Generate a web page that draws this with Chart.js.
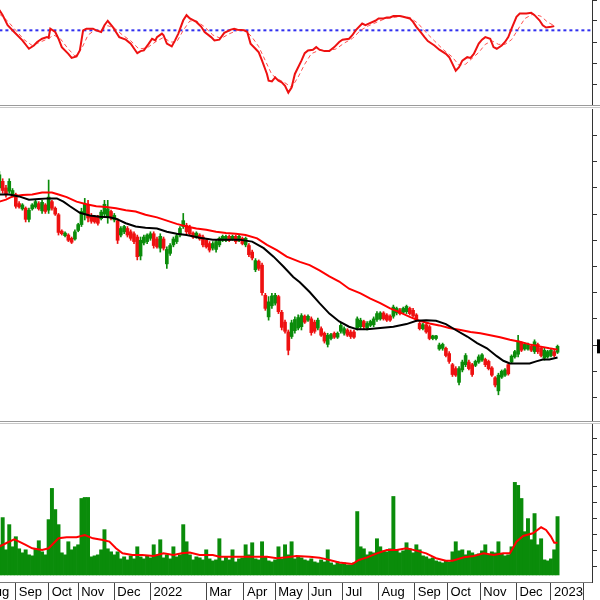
<!DOCTYPE html>
<html>
<head>
<meta charset="utf-8">
<script src="https://cdn.jsdelivr.net/npm/chart.js@4.4.1/dist/chart.umd.min.js"></script>
<style>
  html, body { margin: 0; padding: 0; width: 600px; height: 600px; overflow: hidden; background: #fff; position: relative; }
  canvas { position: absolute; }
  .sep { position: absolute; left: 0; width: 600px; height: 1px; }
</style>
</head>
<body>
<canvas id="rsi" width="680" height="105" style="left:-40px;top:0"></canvas>
<div class="sep" style="top:105px;background:#9a9a9a"></div>
<div class="sep" style="top:107px;background:#c8c8c8"></div>
<canvas id="price" width="680" height="312" style="left:-40px;top:109px"></canvas>
<div class="sep" style="top:421px;background:#9a9a9a"></div>
<div class="sep" style="top:423px;background:#c8c8c8"></div>
<canvas id="vol" width="680" height="176" style="left:-40px;top:424px"></canvas>
<script>
// x is a trading-day index (one candle every 2 sessions)
const monthDays   = [-10, 10, 30, 48, 70, 92, 126, 149, 168, 188, 209, 231, 253, 273, 293, 315, 336, 356];
const monthLabels = ['Aug', 'Sep', 'Oct', 'Nov', 'Dec', '2022', 'Mar', 'Apr', 'May', 'Jun', 'Jul', 'Aug', 'Sep', 'Oct', 'Nov', 'Dec', '2023', ''];

const opens = [56.0,57.0,56.0,55.5,55.0,55.0,53.6,52.8,52.9,51.2,52.8,53.1,53.6,52.5,53.4,52.6,53.9,52.9,51.9,49.4,
  48.7,48.8,48.3,48.2,49.5,50.4,52.0,53.4,51.8,51.6,51.5,51.3,52.0,51.5,52.4,51.1,51.0,48.8,49.3,49.8,
  49.3,49.0,48.5,45.6,47.6,47.8,48.3,49.0,48.2,46.8,48.2,44.4,46.0,47.3,47.8,48.8,50.1,50.3,50.0,49.1,
  48.5,48.8,48.5,48.0,47.5,46.8,46.6,47.3,48.0,48.0,48.6,48.2,48.6,48.0,48.3,47.3,47.2,46.2,43.5,44.8,
  44.2,39.6,36.3,38.0,38.4,39.4,37.0,35.5,34.0,33.3,34.2,34.6,34.8,36.4,35.8,36.0,35.5,34.6,34.5,33.8,
  32.1,33.0,33.8,33.2,34.1,33.8,34.3,34.0,34.0,34.6,34.8,35.6,34.6,35.0,35.1,35.9,36.0,36.9,36.6,36.4,
  36.4,36.9,37.4,37.0,37.1,37.6,37.3,36.6,35.3,34.5,35.1,34.8,33.0,33.0,31.4,31.5,31.5,30.7,29.0,28.4,
  26.3,28.2,29.0,29.4,29.0,28.9,29.4,29.7,29.8,29.5,28.5,27.0,25.0,27.1,27.4,29.0,29.4,30.2,30.6,32.3,
  31.4,31.4,31.8,31.0,32.1,31.5,30.0,30.2,30.4,31.0,30.9];
const highs = [58.5,57.4,56.4,57.4,55.9,55.2,53.9,53.6,53.1,52.9,53.6,54.1,53.9,54.1,53.6,57.2,54.1,53.1,52.1,49.6,
  49.3,49.0,48.5,49.6,50.6,52.9,54.4,54.1,52.1,51.8,51.8,52.6,54.1,54.1,52.6,52.1,51.3,50.1,50.3,50.1,
  49.6,49.3,48.8,48.5,48.8,49.0,49.3,49.3,48.5,49.0,48.5,47.0,47.5,48.5,49.0,50.1,52.1,50.6,50.3,49.3,
  49.3,49.0,48.8,48.3,47.8,47.8,48.0,48.5,48.8,48.8,48.8,48.8,48.8,48.8,48.5,48.5,47.5,46.5,45.2,45.0,
  44.5,39.9,39.4,39.9,39.9,39.6,37.3,35.8,34.3,35.8,36.3,36.6,36.8,36.6,36.6,36.3,35.8,36.1,34.8,34.0,
  33.8,33.8,34.0,34.0,35.3,34.8,34.5,34.3,34.3,36.3,36.1,35.8,35.6,35.8,36.3,37.1,37.1,37.1,36.8,36.6,
  38.1,37.8,37.6,37.8,38.1,37.8,37.6,36.8,35.6,35.3,35.3,35.0,33.5,33.5,32.3,32.3,31.7,31.0,29.2,28.7,
  28.7,29.7,30.7,29.7,29.2,29.7,30.5,30.7,30.0,29.7,28.7,27.2,27.7,28.2,28.4,29.2,30.5,31.2,33.5,32.5,
  32.3,32.3,32.0,32.8,32.3,31.7,31.5,31.2,31.5,31.2,32.0];
const lows = [55.2,55.2,54.6,55.2,54.6,52.9,52.9,52.6,50.8,50.8,52.6,52.9,52.6,52.1,52.1,52.1,52.6,51.8,48.8,48.8,
  48.5,47.8,47.5,48.0,49.3,50.1,51.1,50.8,50.6,50.6,50.3,51.1,51.6,50.6,51.1,50.8,47.5,48.5,49.0,48.5,
  48.0,47.5,45.0,45.0,47.3,47.5,48.0,46.8,46.8,46.2,46.5,43.7,45.7,47.0,47.5,48.5,49.8,49.0,48.8,48.3,
  48.3,48.0,47.0,46.8,46.2,46.5,46.2,47.0,47.8,47.8,47.8,48.0,47.5,47.8,47.3,47.0,45.5,45.0,43.2,43.4,
  39.6,37.3,35.8,37.6,38.1,36.8,34.3,33.8,30.5,33.0,33.8,34.3,34.3,35.3,35.6,33.5,33.8,34.3,33.3,32.3,
  31.7,32.8,33.0,33.0,33.8,33.5,33.3,33.0,33.0,34.3,34.5,34.5,34.3,34.8,34.8,35.6,35.8,35.8,35.6,35.6,
  36.1,36.6,36.6,36.8,36.8,36.6,36.3,35.6,34.3,34.3,33.8,32.8,32.8,32.8,31.2,31.2,30.2,29.2,27.2,27.2,
  25.9,27.9,28.7,28.2,27.2,28.7,29.2,29.5,28.7,28.2,27.2,25.6,24.4,26.9,27.2,27.4,29.2,30.0,30.2,31.0,
  31.2,31.2,31.0,30.7,30.7,30.2,29.7,30.0,30.2,30.2,30.7];
const closes = [58.0,55.6,55.0,57.0,55.6,53.2,53.1,53.4,51.2,52.6,53.4,53.9,52.8,53.8,52.4,54.6,52.9,52.0,49.2,49.0,
  49.1,48.0,47.7,49.3,50.4,52.4,53.6,51.4,50.9,50.8,50.6,52.3,53.5,52.8,51.4,51.8,48.0,49.8,50.1,48.8,
  48.3,47.8,45.5,48.0,48.5,48.8,49.0,47.2,47.0,48.6,46.8,46.6,47.2,48.2,48.7,49.8,51.0,49.3,49.0,48.5,
  49.1,48.2,47.3,47.0,46.5,47.5,47.8,48.3,48.6,48.6,48.0,48.6,47.8,48.6,47.5,48.3,45.8,45.3,44.9,43.7,
  40.0,37.6,38.6,39.5,39.6,37.1,34.7,34.1,31.2,35.4,35.9,36.2,36.5,35.5,36.4,33.9,34.1,35.8,33.5,32.6,
  33.5,33.6,33.2,33.8,35.0,34.5,33.5,33.3,33.2,36.0,35.8,34.8,35.3,35.6,36.0,36.8,36.9,36.0,35.8,35.8,
  37.8,37.6,36.8,37.6,37.9,36.8,36.5,35.8,34.5,35.1,34.0,33.0,33.4,33.4,32.0,32.1,30.4,29.5,27.5,27.4,
  28.4,29.4,30.4,28.4,27.5,29.5,30.2,30.5,29.0,28.4,27.4,25.9,27.4,28.0,28.2,27.6,30.3,31.0,32.6,31.2,
  32.1,32.1,31.2,32.5,31.0,30.4,31.2,31.0,31.2,30.4,31.8];
const volumes = [3.0,5.7,2.5,5.0,2.8,3.8,2.6,2.2,2.5,2.0,1.9,2.6,3.4,2.3,2.0,5.5,8.6,6.5,5.0,2.2,
  2.0,3.3,2.5,2.8,3.0,7.6,7.7,7.7,1.8,1.9,2.0,2.5,4.5,2.6,2.3,2.0,2.3,1.6,1.8,1.5,
  1.9,1.6,2.8,1.8,1.6,1.9,1.7,3.0,2.0,3.5,1.7,2.0,1.6,2.8,1.8,2.0,5.0,3.3,2.0,1.5,
  1.8,1.7,1.5,2.5,1.6,1.4,1.5,3.6,1.4,1.8,1.5,2.5,1.3,1.6,1.7,3.0,2.0,3.2,1.6,1.5,
  3.3,1.8,1.4,1.3,1.5,2.8,1.6,3.0,2.0,3.3,1.6,1.8,1.7,1.5,1.4,1.6,1.3,1.2,1.5,1.3,
  2.5,1.2,1.0,1.3,1.1,1.2,1.0,1.0,1.2,6.3,2.8,2.6,2.0,2.3,2.2,3.6,2.8,2.4,2.3,2.6,
  7.8,2.5,2.2,2.4,3.2,2.6,2.2,3.0,2.5,1.9,1.8,1.6,1.7,1.4,1.3,1.2,1.4,1.3,2.3,3.3,
  2.4,2.5,2.0,2.4,2.2,2.0,2.1,2.4,3.0,2.0,2.3,2.2,3.3,2.1,1.9,2.0,2.8,9.2,8.9,7.6,
  4.3,5.6,3.5,6.1,3.0,3.6,1.5,1.4,1.6,2.5,5.8];

const maShortDays = [0,6,12,18,24,30,35,39,43,49,55,61,67,71,77,83,89,96,102,108,114,122,130,138,146,154,161,167,173,179,
  183,189,195,201,207,213,218,224,232,240,248,254,260,266,272,278,285,291,297,303,307,311,317,323,327,331,335,340];
const maShort = [55.0,55.0,54.7,54.2,54.3,54.4,54.4,53.9,53.2,52.2,51.8,51.6,51.5,51.3,50.6,50.1,49.9,49.8,49.3,49.0,
  48.8,48.4,48.1,48.1,48.1,47.8,46.8,45.5,44.0,42.4,41.6,40.1,38.4,36.8,35.6,34.8,34.4,34.4,34.6,34.8,
  35.2,35.7,35.8,35.7,35.2,34.3,33.3,32.3,31.5,30.3,29.6,29.2,29.2,29.2,29.5,29.8,29.8,30.1];
const maLongDays = [0,4,8,14,20,26,32,36,41,47,53,59,65,71,77,83,89,96,102,108,114,120,126,132,138,144,150,157,163,169,
  175,183,189,195,201,207,213,220,226,232,238,244,250,256,262,268,274,281,287,293,299,305,311,317,323,329,335,340];
const maLong = [53.9,54.2,54.7,54.9,55.0,55.3,55.3,55.0,54.6,53.9,53.5,53.2,53.1,52.9,52.6,52.4,51.9,51.5,51.0,50.5,
  50.1,49.8,49.6,49.3,49.1,49.0,48.8,48.3,47.3,46.5,45.5,44.7,44.2,43.4,42.5,41.7,40.6,39.9,39.1,38.4,
  37.6,37.0,36.3,35.7,35.3,35.0,34.6,34.3,34.0,33.8,33.5,33.2,32.8,32.5,32.1,31.8,31.5,31.3];

const rsiDays = [0,2,5,9,14,18,21,23,26,29,30,31,34,36,38,42,44,47,49,51,53,57,59,62,64,66,69,71,73,77,
  80,84,86,88,91,93,95,96,99,100,102,105,107,109,112,114,116,120,123,125,129,131,134,137,141,143,145,149,151,153,
  156,158,160,163,164,166,168,170,172,174,176,178,180,184,186,188,191,193,195,198,201,204,207,209,213,215,217,221,223,225,
  229,231,234,236,238,240,244,246,250,252,254,257,259,261,265,268,272,274,276,278,280,282,285,287,289,292,294,296,299,301,
  303,306,308,310,312,315,317,321,324,326,329,331,333,336,338];
const rsiVals = [58.7,56.5,52.2,49.3,45.7,42.1,43.5,45.0,46.4,47.1,46.8,50.7,49.3,46.4,42.8,39.9,38.2,38.8,41.4,50.0,50.7,50.7,50.0,49.3,52.2,54.1,51.5,49.3,47.1,46.0,
  44.3,40.2,41.1,41.4,44.3,46.4,45.7,47.1,48.6,47.9,44.3,43.1,45.7,48.6,54.3,56.5,55.1,53.6,51.5,49.3,47.1,45.7,46.0,48.9,50.3,50.7,50.3,50.0,49.3,44.3,
  42.1,40.6,37.0,31.3,28.4,28.1,29.8,28.4,27.7,26.2,23.3,25.5,31.3,37.0,40.2,41.4,41.7,42.8,41.7,41.1,41.1,42.8,45.0,46.0,46.4,47.9,50.0,52.9,52.2,52.9,
  54.1,55.1,55.1,55.5,55.5,56.1,56.1,55.8,55.1,53.6,51.5,48.9,47.1,45.4,43.5,41.7,39.9,38.5,35.6,32.7,34.2,37.0,38.5,38.2,39.9,44.3,46.0,47.1,46.4,42.8,
  42.1,43.5,45.0,47.1,50.7,55.8,57.2,57.2,57.5,56.5,54.3,52.2,51.2,51.5,51.8];
const signalDays = [0,5,10,15,20,25,30,33,37,42,46,50,54,58,62,66,70,75,80,85,90,95,100,104,108,112,116,120,125,130,
  135,140,145,150,154,158,162,166,170,174,178,182,186,190,195,200,205,210,215,220,225,230,235,240,245,250,255,260,265,270,
  276,280,284,288,292,296,300,304,308,312,316,320,325,330,334,338];
const signalVals = [57,54,50,46,43.5,45,46.5,48,46.5,42,39,42,48,50,50,52,51,48,45.5,42,42.5,45,47,45,45,50,54,54,51.5,48,
  46.5,48.5,50,50,47,43,37,31,29,27.5,25.5,30,35.5,40,41.5,41.3,42,44.5,46.5,50,52,53.5,55,55.5,56,55.5,53,49,45.5,42,
  38.5,35,35.5,38,40.5,44,45.5,44,44,46,50.5,55,57,56,53.5,52];
const rsiLevel = 50;

const volMaDays = [0,4,9,12,16,20,26,30,36,41,47,52,57,63,67,71,75,81,87,94,100,106,111,116,122,130,134,142,152,163,
  169,175,181,189,195,201,207,211,215,219,224,230,236,242,248,254,260,266,272,276,283,289,295,301,307,311,315,319,325,330,
  333,336,338,340];
const volMa = [2.81,3.15,3.54,3.31,2.98,2.65,2.48,2.65,3.64,3.74,3.74,3.97,3.64,3.48,3.31,2.65,2.15,1.99,1.99,1.89,
  2.15,1.99,2.15,2.22,1.99,1.99,1.82,1.82,1.82,1.82,1.66,1.75,1.89,1.82,1.72,1.49,1.23,1.16,1.09,1.49,
  1.75,2.15,2.48,2.48,2.65,2.42,2.15,1.66,1.42,1.42,1.75,1.89,2.15,1.99,2.15,2.15,3.31,3.87,4.14,4.74,
  4.47,3.81,3.21,3.21];

const X_MIN = -24, X_MAX = 361;
const GREEN = '#0a8c0a', RED = '#ee1111';

Chart.defaults.font.family = '"Liberation Sans", Arial, sans-serif';
Chart.defaults.font.size = 11;
Chart.defaults.color = '#000';
Chart.defaults.animation = false;
Chart.defaults.plugins.legend.display = false;
Chart.defaults.plugins.tooltip.enabled = false;

const candleX = opens.map((_, i) => i * 2);
const candleColors = opens.map((o, i) => closes[i] >= o ? GREEN : RED);
const pts = (xs, ys) => xs.map((x, i) => ({x: x, y: ys[i]}));

function xAxis(show) {
  const axis = {
    type: 'linear', min: X_MIN, max: X_MAX, offset: false, display: show,
    grid: {drawOnChartArea: false, offset: false, tickLength: 18, color: '#444'},
    border: {color: '#777'},
    afterBuildTicks: s => { s.ticks = monthDays.map(v => ({value: v})); },
    ticks: {
      autoSkip: false, maxRotation: 0, minRotation: 0, align: 'start', labelOffset: 3, padding: -15,
      font: {size: 13}, callback: (v, i) => monthLabels[i]
    }
  };
  if (show) axis.afterFit = s => { s.height = 18; s.paddingLeft = 0; s.paddingRight = 0; };
  return axis;
}

function yAxis(min, max, step) {
  return {
    position: 'right', min: min, max: max,
    grid: {drawOnChartArea: false, tickLength: 5, color: '#333'},
    border: {color: '#333'},
    ticks: {stepSize: step, padding: 6},
    afterBuildTicks: s => {
      s.ticks = s.ticks.filter(t => Math.abs(t.value / step - Math.round(t.value / step)) < 1e-6);
    },
    afterFit: s => { s.width = 48; s.paddingTop = 0; s.paddingBottom = 0; }
  };
}

// RSI panel
new Chart(document.getElementById('rsi'), {
  type: 'line',
  data: {
    datasets: [
      {data: pts(rsiDays, rsiVals), borderColor: RED, borderWidth: 2, pointRadius: 0, tension: 0},
      {data: pts(signalDays, signalVals), borderColor: '#ff5050', borderWidth: 1, borderDash: [4, 3], pointRadius: 0},
      {data: [{x: 0, y: rsiLevel}, {x: X_MAX, y: rsiLevel}], borderColor: '#3030f0', borderWidth: 2, borderDash: [3, 3], pointRadius: 0}
    ]
  },
  options: {
    responsive: false,
    layout: {padding: 0},
    scales: {x: xAxis(false), y: yAxis(18, 63, 3)}
  }
});

// price panel
const lastPriceTag = {
  id: 'lastPriceTag',
  afterDraw(chart) {
    const {ctx, chartArea, scales} = chart;
    const v = closes[closes.length - 1];
    const y = scales.y.getPixelForValue(v);
    ctx.save();
    ctx.fillStyle = '#000';
    ctx.fillRect(chartArea.right + 5, y - 7, 40, 14);
    ctx.fillStyle = '#fff';
    ctx.font = '11px "Liberation Sans"';
    ctx.textBaseline = 'middle';
    ctx.fillText(v.toFixed(2), chartArea.right + 8, y);
    ctx.restore();
  }
};

new Chart(document.getElementById('price'), {
  type: 'bar',
  data: {
    datasets: [
      {type: 'line', data: pts(maShortDays, maShort), borderColor: '#000', borderWidth: 2, pointRadius: 0, order: 0},
      {type: 'line', data: pts(maLongDays, maLong), borderColor: '#ff0000', borderWidth: 2, pointRadius: 0, order: 0},
      {data: candleX.map((x, i) => ({x: x, y: [lows[i], highs[i]]})), backgroundColor: candleColors,
       barThickness: 1, grouped: false, order: 2},
      {data: candleX.map((x, i) => ({x: x, y: [opens[i], closes[i]]})), backgroundColor: candleColors,
       barThickness: 3, grouped: false, order: 1}
    ]
  },
  options: {
    responsive: false,
    layout: {padding: 0},
    scales: {x: xAxis(false), y: yAxis(20.4, 68.05, 2)}
  },
  plugins: [lastPriceTag]
});

// volume panel
new Chart(document.getElementById('vol'), {
  type: 'bar',
  data: {
    datasets: [
      {type: 'line', data: pts(volMaDays, volMa), borderColor: '#ff0000', borderWidth: 2, pointRadius: 0, order: 0},
      {data: pts(candleX, volumes), backgroundColor: GREEN, barPercentage: 1, categoryPercentage: 1, order: 1}
    ]
  },
  options: {
    responsive: false,
    layout: {padding: 0},
    scales: {x: xAxis(true), y: yAxis(-0.7, 15, 0.8)}
  }
});
</script>
</body>
</html>
